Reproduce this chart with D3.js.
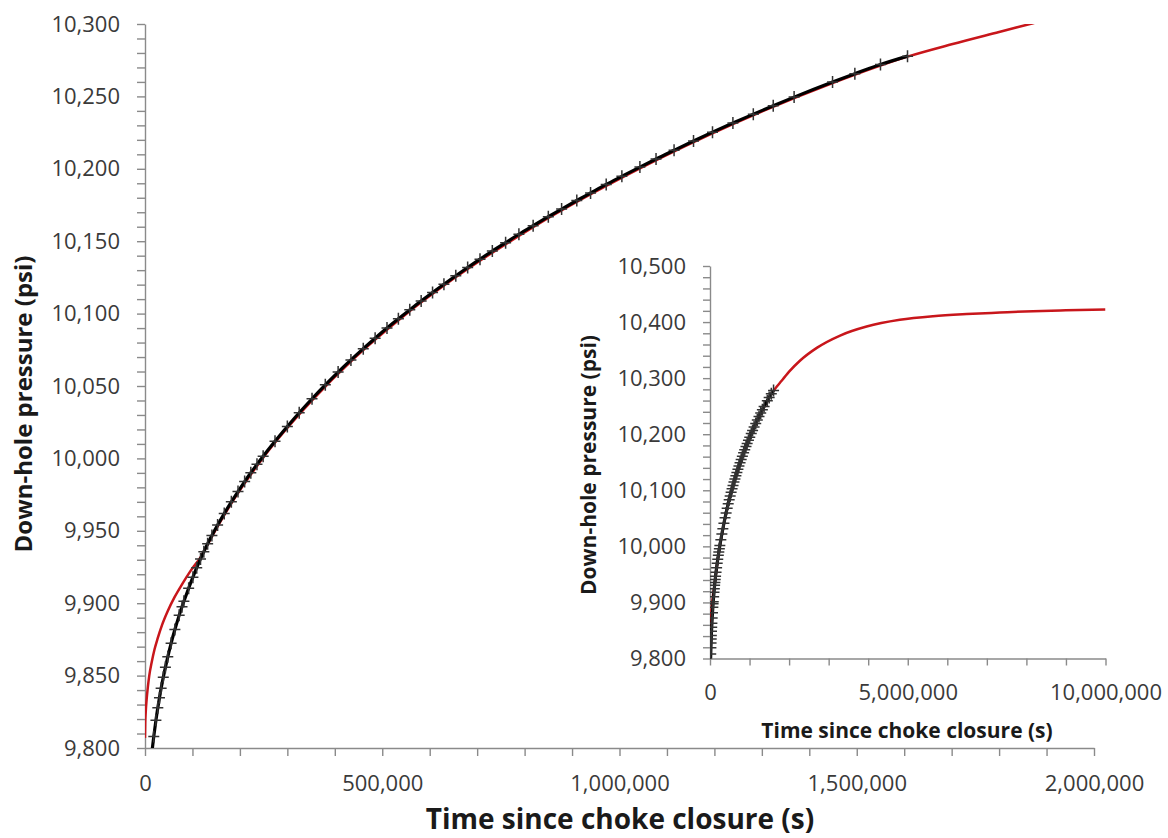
<!DOCTYPE html>
<html><head><meta charset="utf-8">
<script src="https://cdn.jsdelivr.net/npm/d3@7/dist/d3.min.js"></script>
<style>
body{margin:0;background:#fff;}
text{font-family:"Open Sans",sans-serif;}
</style></head>
<body><svg id="c" width="1168" height="838"></svg>
<script>
// Model (red) curve: time since choke closure (s) and down-hole pressure (psi)
const fitTimes = [0,500,1500,3500,6000,9000,14000,20000,27000,36000,48000,62000,78000,96000,118000,141000,182000,249000,352000,443000,540000,650000,818000,1043000,1239000,1449000,1607000,1700000,1800000,1865000,2000000,2280000,2700000,3290000,3960000,4800000,5640000,6490000,7330000,8170000,9000000,10000000];
const fitPressures = [9807,9817,9824.5,9833.8,9842.1,9850,9859,9868,9876,9885,9894.6,9904,9913,9922.3,9932.2,9946,9969,10000.5,10040,10069.8,10097,10124,10159.7,10200.2,10230.8,10259.2,10277.5,10286,10294.5,10300,10311.5,10331.5,10354,10376,10392,10404,10410.5,10414.3,10417,10419.5,10421,10422.5];

// Measured (black, + markers) data
const dataTimes = [12000,18500,23000,27000,30500,34000,38500,43000,48000,55000,63000,72000,78000,82000,92000,101000,109000,117000,124000,132000,141000,153000,167000,182000,196000,210000,223000,236000,249000,274000,300000,325000,352000,380000,407000,434000,460000,485000,510000,534000,558000,582000,606000,630000,655000,680000,706000,732000,760000,788000,818000,850000,878000,910000,939000,972000,1005000,1043000,1077000,1115000,1156000,1196000,1239000,1282000,1324000,1368000,1449000,1496000,1550000,1607000];
const dataPressures = [9790,9808,9819.1,9827.8,9834.7,9841.2,9848.8,9855.7,9863,9872.3,9881.8,9891.6,9897.6,9901.3,9910.3,9918,9924.5,9930.6,9935.6,9941.1,9946.8,9954,9961.9,9970,9977.1,9984,9990.1,9995.9,10001.5,10011.8,10022,10031.5,10041.2,10050.8,10059.6,10068,10075.8,10083,10090,10096.4,10102.6,10108.7,10114.6,10120.3,10126.1,10131.8,10137.6,10143.2,10149,10154.8,10160.7,10166.9,10172.2,10178.1,10183.3,10189.2,10194.8,10201.2,10206.8,10212.8,10219.2,10225.3,10231.6,10237.7,10243.6,10249.5,10259.9,10265.7,10272,10277.8];

// Tick labels
const mainXLabels = [0,500000,1000000,1500000,2000000];
const mainYLabels = [9800,9850,9900,9950,10000,10050,10100,10150,10200,10250,10300];
const insetXLabels = [0,5000000,10000000];
const insetYLabels = [9800,9900,10000,10100,10200,10300,10400,10500];

const fit = fitTimes.map((t,i)=>({t, p: fitPressures[i]}));
const data = dataTimes.map((t,i)=>({t, p: dataPressures[i]}));
const fmt = d3.format(",");
const svg = d3.select("#c");
svg.append("rect").attr("width",1168).attr("height",838).attr("fill","#fff");

function panel(cfg){
  const x = d3.scaleLinear().domain(cfg.xDomain).range(cfg.xRange);
  const y = d3.scaleLinear().domain(cfg.yDomain).range(cfg.yRange);
  const g = svg.append("g");
  const id = cfg.id;
  g.append("clipPath").attr("id", id).append("rect")
    .attr("x", cfg.xRange[0]).attr("y", cfg.yRange[1])
    .attr("width", cfg.xRange[1]-cfg.xRange[0]).attr("height", cfg.yRange[0]-cfg.yRange[1]);

  const xMinor = d3.range(cfg.xDomain[0], cfg.xDomain[1] + cfg.xStep/2, cfg.xStep);
  const yMinor = d3.range(cfg.yDomain[0], cfg.yDomain[1] + cfg.yStep/2, cfg.yStep);

  const xAxis = d3.axisBottom(x).tickValues(xMinor)
    .tickFormat(d => cfg.xLabels.includes(d) ? fmt(d) : "")
    .tickSize(cfg.tick).tickSizeOuter(0).tickPadding(cfg.xPad);
  const yAxis = d3.axisLeft(y).tickValues(yMinor)
    .tickFormat(d => cfg.yLabels.includes(d) ? fmt(d) : "")
    .tickSize(cfg.tick).tickSizeOuter(0).tickPadding(cfg.yPad);

  const gx = g.append("g").attr("transform", `translate(0,${cfg.yRange[0]})`).call(xAxis);
  const gy = g.append("g").attr("transform", `translate(${cfg.xRange[0]},0)`).call(yAxis);
  [gx, gy].forEach(a => {
    a.select(".domain").attr("stroke", "#8a8a8a").attr("stroke-width", 1.4);
    a.selectAll(".tick line").attr("stroke", "#8a8a8a").attr("stroke-width", 1.4);
    a.selectAll(".tick text").attr("fill", "#3a3a3a")
      .style("font-family", '"Open Sans", sans-serif').style("font-size", cfg.tickFont + "px");
  });

  const plot = g.append("g").attr("clip-path", `url(#${id})`);
  const line = d3.line().x(d => x(d.t)).y(d => y(d.p)).curve(d3.curveMonotoneX);
  plot.append("path").datum(fit).attr("d", line)
    .attr("fill", "none").attr("stroke", "#c8161b").attr("stroke-width", 2.5);
  plot.append("path").datum(data).attr("d", line)
    .attr("fill", "none").attr("stroke", "#000").attr("stroke-width", 3.2);
  plot.selectAll("path.mk").data(data).join("path").attr("class","mk")
    .attr("transform", d => `translate(${x(d.t)},${y(d.p)})`)
    .attr("d", "M-5.5,0H5.5M0,-6V6")
    .attr("stroke", "#333").attr("stroke-width", 1.5).attr("fill","none");

  // axis titles
  g.append("text").attr("x", cfg.xTitlePos[0]).attr("y", cfg.xTitlePos[1])
    .attr("text-anchor","middle").attr("font-weight","bold").attr("fill","#1a1a1a")
    .style("font-size", cfg.titleFont[0] + "px").text("Time since choke closure (s)");
  g.append("text").attr("transform", `translate(${cfg.yTitlePos[0]},${cfg.yTitlePos[1]}) rotate(-90)`)
    .attr("text-anchor","middle").attr("font-weight","bold").attr("fill","#1a1a1a")
    .style("font-size", cfg.titleFont[1] + "px").text("Down-hole pressure (psi)");
}

panel({
  id: "clipMain",
  xDomain: [0, 2000000], xRange: [145, 1094],
  yDomain: [9800, 10300], yRange: [748, 24],
  xStep: 100000, yStep: 10,
  xLabels: mainXLabels, yLabels: mainYLabels,
  tick: 8, xPad: 19, yPad: 17, tickFont: 22,
  xTitlePos: [620, 829], yTitlePos: [32, 404], titleFont: [28, 24]
});

panel({
  id: "clipInset",
  xDomain: [0, 10000000], xRange: [710, 1105.5],
  yDomain: [9800, 10500], yRange: [658.5, 266],
  xStep: 1000000, yStep: 20,
  xLabels: insetXLabels, yLabels: insetYLabels,
  tick: 7, xPad: 19, yPad: 17, tickFont: 22,
  xTitlePos: [907, 738], yTitlePos: [596, 465], titleFont: [21, 21]
});
</script>
</body></html>
